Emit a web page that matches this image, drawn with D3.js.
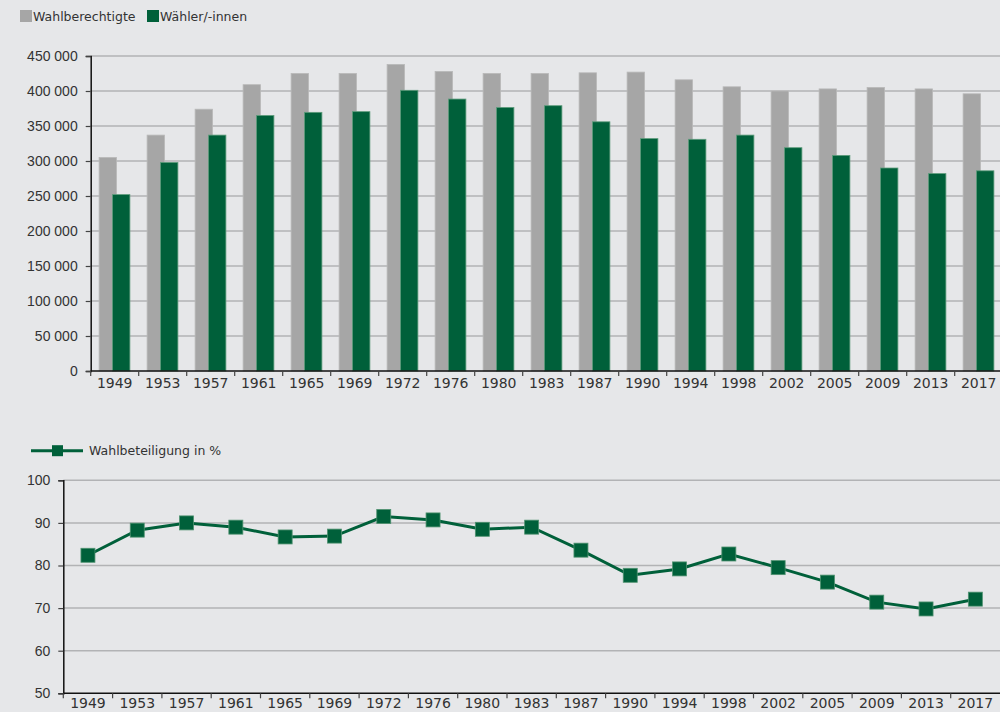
<!DOCTYPE html>
<html>
<head>
<meta charset="utf-8">
<script src="https://cdn.jsdelivr.net/npm/d3@7"></script>
<style>
  body { margin: 0; background: #e6e7e9; }
  svg { display: block; font-family: "DejaVu Sans", sans-serif; }
  .tick text { fill: #333; }
</style>
</head>
<body>
<div id="chart"></div>
<script>
// Wahlen 1949 - 2017
var years = ["1949","1953","1957","1961","1965","1969","1972","1976","1980","1983",
             "1987","1990","1994","1998","2002","2005","2009","2013","2017"];
var eligible = [305000,337000,374000,409000,425000,425000,438000,428000,425000,425000,
                426000,427000,416000,406000,400000,403000,405000,403000,396000];
var voters = [252000,298000,337000,365000,369500,370500,401000,388500,376500,379000,
              356000,332000,331000,337000,319000,308000,290000,282000,286000];
var turnout = [82.4,88.3,90.0,89.0,86.7,86.9,91.5,90.7,88.5,89.0,
               83.6,77.7,79.2,82.7,79.5,76.1,71.4,69.8,72.1];
var countTicks = [0,50000,100000,150000,200000,250000,300000,350000,400000,450000];
var pctTicks = [50,60,70,80,90,100];

var green = "#00603a",
    gray = "#a6a6a6",
    gridColor = "#b2b3b5";

var width = 1000, height = 712;
var fmt = d3.formatLocale({decimal: ",", thousands: " ", grouping: [3], currency: ["", ""]}).format(",d");

var svg = d3.select("#chart").append("svg")
    .attr("width", width)
    .attr("height", height);

svg.append("rect").attr("width", width).attr("height", height).attr("fill", "#e6e7e9");

//////////////////////////////////////////////////////
////////////// Top chart: bars ///////////////////////
//////////////////////////////////////////////////////

var x1 = d3.scaleBand().domain(years).range([90.7, 1002.7]);
var y1 = d3.scaleLinear().domain([0, 450000]).range([371, 56]);

var barChart = svg.append("g");

//gridlines
barChart.append("g")
    .selectAll("line")
    .data(countTicks.filter(function(d){ return d > 0; }))
    .enter().append("line")
    .attr("x1", 90.7).attr("x2", width)
    .attr("y1", function(d){ return y1(d); })
    .attr("y2", function(d){ return y1(d); })
    .attr("stroke", gridColor)
    .attr("stroke-width", 1.5);

var barW = 17.4;

barChart.append("g")
    .selectAll("rect")
    .data(years)
    .enter().append("rect")
    .attr("x", function(d){ return x1(d) + x1.bandwidth()/2 - 15.6; })
    .attr("y", function(d,i){ return y1(eligible[i]); })
    .attr("width", barW)
    .attr("height", function(d,i){ return y1(0) - y1(eligible[i]); })
    .attr("fill", gray)
    .attr("stroke", "#b9b9b9")
    .attr("stroke-width", 0.8);

barChart.append("g")
    .selectAll("rect")
    .data(years)
    .enter().append("rect")
    .attr("x", function(d){ return x1(d) + x1.bandwidth()/2 - 2.2; })
    .attr("y", function(d,i){ return y1(voters[i]); })
    .attr("width", barW)
    .attr("height", function(d,i){ return y1(0) - y1(voters[i]); })
    .attr("fill", green)
    .attr("stroke", "#5e9c7c")
    .attr("stroke-width", 0.8);

//y axis
var yAxis1 = barChart.append("g")
    .attr("transform", "translate(90.7,0)")
    .call(d3.axisLeft(y1).tickValues(countTicks).tickFormat(fmt).tickSize(5).tickPadding(8));
yAxis1.selectAll("text").style("font-size", "14px");
yAxis1.select(".domain").attr("stroke", "#111").attr("stroke-width", 1.5);
yAxis1.selectAll(".tick line").attr("stroke", "#444").attr("stroke-width", 1.2);

//x axis
var xAxis1 = barChart.append("g").attr("transform", "translate(0,371)");
xAxis1.append("line")
    .attr("x1", 90.7).attr("x2", width)
    .attr("stroke", "#111").attr("stroke-width", 1.5);
xAxis1.selectAll(".xt")
    .data(years)
    .enter().append("line")
    .attr("class", "xt")
    .attr("x1", function(d){ return x1(d); })
    .attr("x2", function(d){ return x1(d); })
    .attr("y1", 0).attr("y2", 5)
    .attr("stroke", "#444").attr("stroke-width", 1.2);
xAxis1.selectAll("text")
    .data(years)
    .enter().append("text")
    .attr("x", function(d){ return x1(d) + x1.bandwidth()/2; })
    .attr("y", 17)
    .attr("text-anchor", "middle")
    .attr("fill", "#333")
    .style("font-size", "14px")
    .text(function(d){ return d; });

//legend
var leg1 = svg.append("g").style("font-size", "12.5px").attr("fill", "#333");
leg1.append("rect").attr("x", 20).attr("y", 10).attr("width", 12).attr("height", 12).attr("fill", gray);
leg1.append("text").attr("x", 33).attr("y", 21).text("Wahlberechtigte");
leg1.append("rect").attr("x", 147).attr("y", 10).attr("width", 12).attr("height", 12).attr("fill", green);
leg1.append("text").attr("x", 160).attr("y", 21).text("Wähler/-innen");

//////////////////////////////////////////////////////
////////////// Bottom chart: line ////////////////////
//////////////////////////////////////////////////////

var x2 = d3.scaleBand().domain(years).range([63.3, 1000]);
var y2 = d3.scaleLinear().domain([50, 100]).range([693.3, 480.3]);

var lineChart = svg.append("g");

lineChart.append("g")
    .selectAll("line")
    .data(pctTicks.filter(function(d){ return d > 50; }))
    .enter().append("line")
    .attr("x1", 63.3).attr("x2", width)
    .attr("y1", function(d){ return y2(d); })
    .attr("y2", function(d){ return y2(d); })
    .attr("stroke", gridColor)
    .attr("stroke-width", 1.5);

var line = d3.line()
    .x(function(d,i){ return x2(years[i]) + x2.bandwidth()/2; })
    .y(function(d){ return y2(d); });

lineChart.append("path")
    .datum(turnout)
    .attr("d", line)
    .attr("fill", "none")
    .attr("stroke", green)
    .attr("stroke-width", 3);

var mk = 14;
lineChart.append("g")
    .selectAll("rect")
    .data(turnout)
    .enter().append("rect")
    .attr("x", function(d,i){ return x2(years[i]) + x2.bandwidth()/2 - mk/2; })
    .attr("y", function(d){ return y2(d) - mk/2; })
    .attr("width", mk)
    .attr("height", mk)
    .attr("fill", green)
    .attr("stroke", "#4f9270")
    .attr("stroke-width", 0.8);

var yAxis2 = lineChart.append("g")
    .attr("transform", "translate(63.3,0)")
    .call(d3.axisLeft(y2).tickValues(pctTicks).tickSize(5).tickPadding(8));
yAxis2.selectAll("text").style("font-size", "14px");
yAxis2.select(".domain").attr("stroke", "#111").attr("stroke-width", 1.5);
yAxis2.selectAll(".tick line").attr("stroke", "#444").attr("stroke-width", 1.2);

var xAxis2 = lineChart.append("g").attr("transform", "translate(0,693.3)");
xAxis2.append("line")
    .attr("x1", 63.3).attr("x2", width)
    .attr("stroke", "#111").attr("stroke-width", 1.5);
xAxis2.selectAll(".xt")
    .data(years)
    .enter().append("line")
    .attr("class", "xt")
    .attr("x1", function(d){ return x2(d); })
    .attr("x2", function(d){ return x2(d); })
    .attr("y1", 0).attr("y2", 5)
    .attr("stroke", "#444").attr("stroke-width", 1.2);
xAxis2.selectAll("text")
    .data(years)
    .enter().append("text")
    .attr("x", function(d){ return x2(d) + x2.bandwidth()/2; })
    .attr("y", 14.5)
    .attr("text-anchor", "middle")
    .attr("fill", "#333")
    .style("font-size", "14px")
    .text(function(d){ return d; });

//legend
var leg2 = svg.append("g").style("font-size", "12.5px").attr("fill", "#333");
leg2.append("line").attr("x1", 31).attr("x2", 83).attr("y1", 450.7).attr("y2", 450.7)
    .attr("stroke", green).attr("stroke-width", 3);
leg2.append("rect").attr("x", 52).attr("y", 445.2).attr("width", 11).attr("height", 11).attr("fill", green);
leg2.append("text").attr("x", 89).attr("y", 455).text("Wahlbeteiligung in %");
</script>
</body>
</html>
